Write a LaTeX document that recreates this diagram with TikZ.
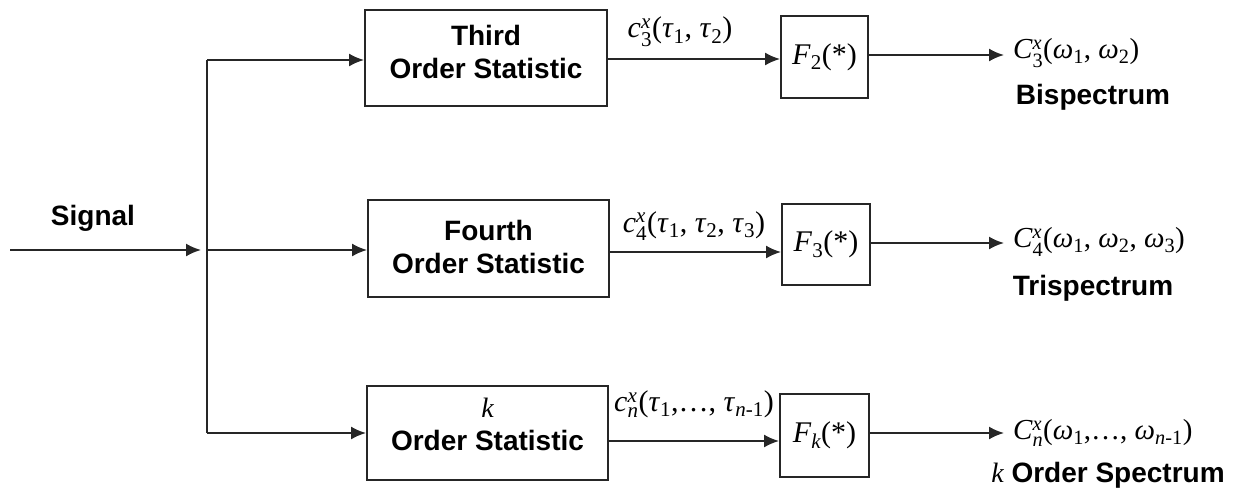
\documentclass[tikz,border=0pt]{standalone}
\usepackage{amsmath}
\usepackage{fontspec}
\setmainfont{Liberation Serif}
\newfontfamily\arl{Liberation Sans}
\usetikzlibrary{arrows.meta}
\newcommand\sps[2]{$^{\text{#1}}_{\text{#2}}$}
\newcommand\sbs[1]{$_{\text{\upshape #1}}$}
\begin{document}
\begin{tikzpicture}[x=1pt,y=-1pt,
  ln/.style={line width=1.9pt, draw=black!85},
  arr/.style={ln, -{Latex[length=15pt,width=13pt]}},
  stat/.style={ln, rectangle, inner sep=0pt},
  stext/.style={inner sep=0pt, font=\arl\bfseries\fontsize{28}{33}\selectfont, align=center},
  fbox/.style={ln, rectangle, inner sep=0pt, font=\fontsize{30}{33}\selectfont},
  mlab/.style={inner sep=0pt, font=\fontsize{30}{33}\selectfont},
  olab/.style={inner sep=0pt, font=\fontsize{29}{33}\selectfont},
  blab/.style={inner sep=0pt, font=\arl\bfseries\fontsize{28}{33}\selectfont}]
\useasboundingbox (0,0) rectangle (1244,496);
% blocks
\node[stat, minimum width=242pt, minimum height=96pt] (b1) at (486,58) {};
\node[stat, minimum width=241pt, minimum height=97pt] (b2) at (488.5,248.5) {};
\node[stat, minimum width=241pt, minimum height=94pt] (b3) at (487.5,433) {};
\node[stext] (t1) at (486,51.5) {Third\\Order Statistic};
\node[stext] (t2) at (488.5,246.5) {Fourth\\Order Statistic};
\node[stext] (t3) at (487.5,424.5) {{\rmfamily\mdseries\itshape k}\\Order Statistic};
\node[fbox, minimum width=87pt, minimum height=82pt] (f2) at (824.5,57) {\textit{F}\sbs{2}(*)};
\node[fbox, minimum width=88pt, minimum height=81pt] (f3) at (826,244.5) {\textit{F}\sbs{3}(*)};
\node[fbox, minimum width=89pt, minimum height=83pt] (fk) at (824.5,435.5) {\textit{F}\sbs{\itshape k}(*)};
% input
\node[blab] (sig) at (93,218) {Signal};
\coordinate (in) at (10,250);
\coordinate (j2) at (207,250);
\coordinate (j1) at (207,60);
\coordinate (j3) at (207,433);
\draw[arr] (in) -- (201,250);
\draw[ln] (j1) -- (j3);
\draw[arr] (j1) -- (j1 -| b1.west);
\draw[arr] (j2) -- (j2 -| b2.west);
\draw[arr] (j3) -- (j3 -| b3.west);
% intermediate labels
\node[mlab] (l1) at (680,32) {\itshape c\sps{x}{\upshape 3}\upshape(\textit{τ}\sbs{1}, \textit{τ}\sbs{2})};
\node[mlab] (l2) at (694,226) {\itshape c\sps{x}{\upshape 4}\upshape(\textit{τ}\sbs{1}, \textit{τ}\sbs{2}, \textit{τ}\sbs{3})};
\node[mlab] (l3) at (694,404) {\itshape c\sps{x}{n}\upshape(\textit{τ}\sbs{1},…, \textit{τ}\sbs{\itshape n\upshape -1})};
\coordinate (a1) at (0,59);
\coordinate (a2) at (0,252);
\coordinate (a3) at (0,441);
\draw[arr] (b1.east |- a1) -- (f2.west |- a1);
\draw[arr] (b2.east |- a2) -- (f3.west |- a2);
\draw[arr] (b3.east |- a3) -- (fk.west |- a3);
% outputs
\node[olab, anchor=west] (o1) at (1013,53) {\itshape C\sps{x}{\upshape 3}\upshape(\textit{ω}\sbs{1}, \textit{ω}\sbs{2})};
\node[olab, anchor=west] (o2) at (1013,242) {\itshape C\sps{x}{\upshape 4}\upshape(\textit{ω}\sbs{1}, \textit{ω}\sbs{2}, \textit{ω}\sbs{3})};
\node[olab, anchor=west] (o3) at (1013,433) {\itshape C\sps{x}{n}\upshape(\textit{ω}\sbs{1},…, \textit{ω}\sbs{\itshape n\upshape -1})};
\node[blab] (n1) at (1093,97) {Bispectrum};
\node[blab] (n2) at (1093,288) {Trispectrum};
\node[blab] (n3) at (1108,475) {{\rmfamily\mdseries\itshape k} Order Spectrum};
\coordinate (e1) at (0,55);
\coordinate (e2) at (0,243);
\coordinate (e3) at (0,433);
\draw[arr, shorten >=9pt] (f2.east |- e1) -- (o1.west |- e1);
\draw[arr, shorten >=9pt] (f3.east |- e2) -- (o2.west |- e2);
\draw[arr, shorten >=9pt] (fk.east |- e3) -- (o3.west |- e3);
\end{tikzpicture}
\end{document}
